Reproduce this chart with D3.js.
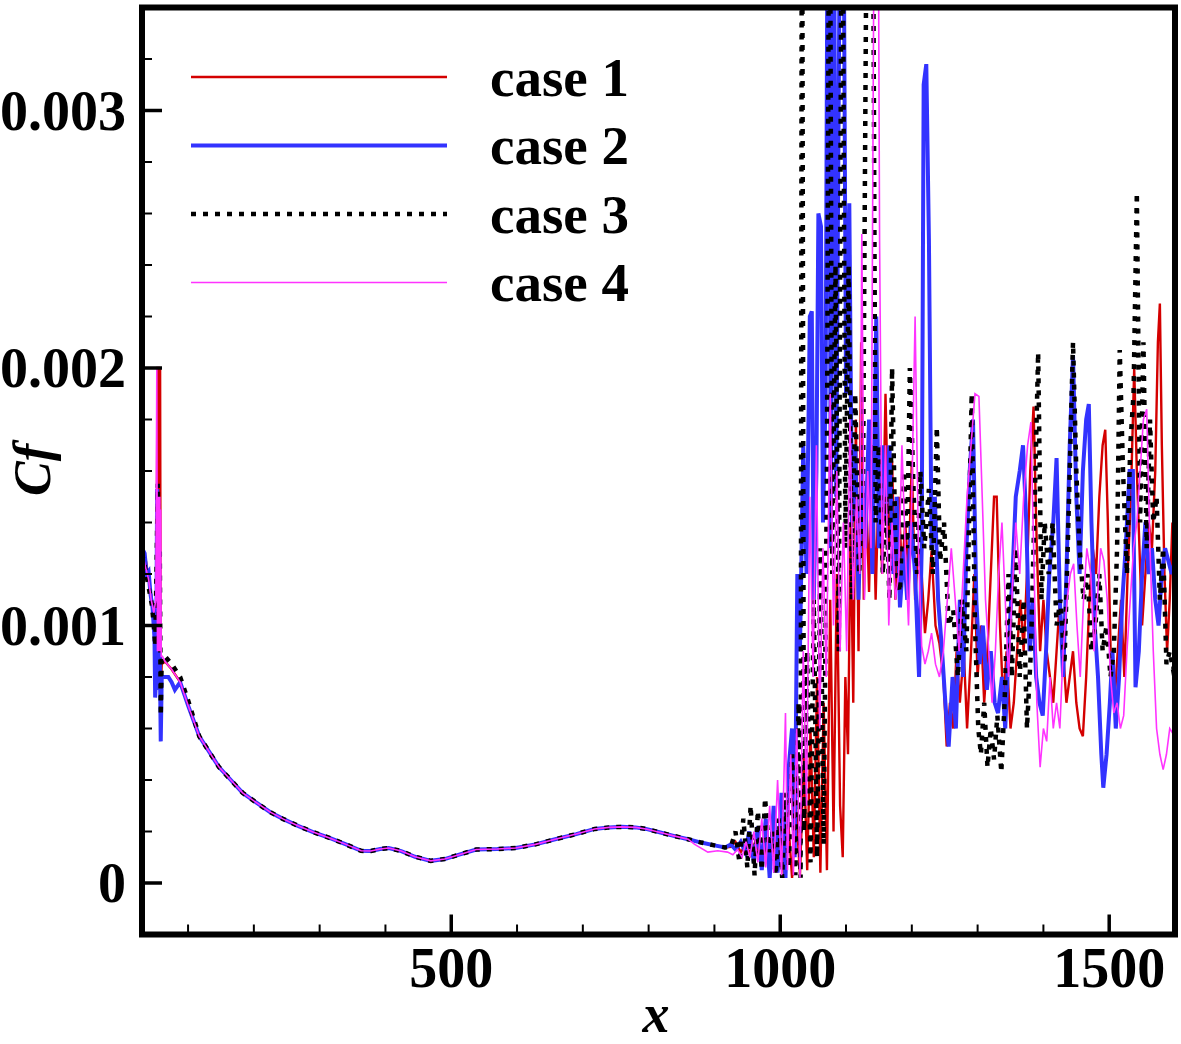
<!DOCTYPE html>
<html>
<head>
<meta charset="utf-8">
<script src="https://cdn.jsdelivr.net/npm/d3@7"></script>
<style>
body { margin:0; background:#fff; }
text { font-family: "Liberation Serif", "Times New Roman", serif; font-weight: bold; fill:#000; }
</style>
</head>
<body>
<svg id="chart" width="1181" height="1044"></svg>
<script>
var xTicksMajor = [500, 1000, 1500];
var yTicksMajor = [0, 0.001, 0.002, 0.003];
var yTickLabels = ["0", "0.001", "0.002", "0.003"];
var caseNames = ["case 1", "case 2", "case 3", "case 4"];

// smooth laminar part, shared by all cases
var lamX = [65, 75, 88, 100, 117, 132, 147, 165, 183, 205, 225, 245, 267, 290, 316, 340, 363, 378, 392, 405, 424, 445, 469, 490, 507, 538, 570, 598, 628, 658, 690, 718, 740, 759, 780, 796, 818, 838, 860, 880, 900, 916];
var lamCf = [0.00086, 0.00083, 0.00078, 0.00069, 0.00057, 0.00051, 0.00045, 0.00040, 0.00035, 0.00031, 0.000275, 0.000248, 0.000222, 0.000198, 0.000174, 0.00015, 0.000125, 0.000124, 0.000132, 0.000136, 0.000124, 0.000102, 0.000086, 0.000093, 0.000106, 0.00013, 0.000132, 0.000136, 0.00015, 0.00017, 0.00019, 0.00021, 0.000216, 0.000218, 0.000216, 0.00021, 0.000196, 0.000183, 0.00017, 0.000157, 0.000146, 0.000138];

// leading edge
var case1LeadX = [30, 36, 40, 44, 48, 52, 53.5, 55.5, 56.5, 57.5, 58.5, 60];
var case1LeadCf = [0.0013, 0.00125, 0.00118, 0.00112, 0.00105, 0.00098, 0.002, 0.002, 0.0009, 0.002, 0.00075, 0.00085];
var case2LeadX = [30, 34, 37, 40, 43, 46, 49, 50, 51.5, 53, 55, 57, 58.5, 60, 65, 70, 75, 80];
var case2LeadCf = [0.0013, 0.00128, 0.0012, 0.00121, 0.00112, 0.00107, 0.00095, 0.00072, 0.0008, 0.00153, 0.00075, 0.0009, 0.00055, 0.0008, 0.0008, 0.0008, 0.00078, 0.00075];
var case3LeadX = [30, 35, 40, 45, 48, 50, 52, 54, 55.5, 57, 58.5, 60, 65, 75, 88, 100];
var case3LeadCf = [0.00128, 0.00122, 0.00115, 0.00108, 0.001, 0.00092, 0.0012, 0.00155, 0.00095, 0.0013, 0.00065, 0.00088, 0.00088, 0.00085, 0.0008, 0.00071];
var case4LeadX = [30, 36, 40, 44, 48, 51, 52.5, 53.5, 54.2, 55, 55.7, 56.4, 57.1, 57.8, 58.5, 59.2, 61];
var case4LeadCf = [0.00129, 0.00122, 0.00118, 0.0011, 0.00105, 0.0011, 0.002, 0.0009, 0.0015, 0.0009, 0.0015, 0.0009, 0.0015, 0.0009, 0.00145, 0.00088, 0.00088];

// transition and turbulent part
var case1TailX = [925, 932, 940, 948, 955, 962, 969, 976, 982, 988, 994, 1000, 1006, 1012, 1018, 1024, 1030, 1036, 1041, 1046, 1051, 1056, 1061, 1066, 1071, 1076, 1081, 1086, 1091, 1095, 1099, 1103, 1107, 1111, 1115, 1119, 1123, 1127, 1131, 1135, 1140, 1145, 1150, 1155, 1160, 1165, 1170, 1175, 1180, 1185, 1190, 1195, 1200, 1205, 1210, 1215, 1220, 1225, 1230, 1236, 1242, 1248, 1253, 1258, 1263, 1268, 1273, 1279, 1284, 1290, 1295, 1300, 1305, 1310, 1315, 1320, 1325, 1329, 1334, 1339, 1344, 1350, 1355, 1360, 1365, 1370, 1375, 1380, 1385, 1390, 1395, 1400, 1405, 1410, 1415, 1420, 1425, 1430, 1435, 1440, 1445, 1450, 1455, 1460, 1465, 1470, 1475, 1480, 1485, 1490, 1494, 1498, 1503, 1508, 1513, 1518, 1523, 1528, 1533, 1538, 1542, 1546, 1550, 1555, 1560, 1565, 1570, 1574, 1577, 1580, 1584, 1588, 1592, 1596, 1600];
var case1TailCf = [0.00014, 0.00016, 0.00012, 0.00015, 0.00011, 0.00016, 0.00009, 0.00018, 0.00006, 0.0002, 0.00004, 0.00018, 0.00002, 0.00025, 0.00002, 0.0003, 0.00003, 0.0005, 0.00005, 0.0006, 0.0001, 0.0008, 0.00004, 0.0007, 0.00005, 0.0011, 0.0002, 0.0012, 0.0003, 0.0001, 0.0008, 0.0005, 0.0014, 0.0007, 0.0018, 0.0009, 0.0021, 0.0011, 0.0015, 0.00113, 0.0017, 0.0011, 0.0016, 0.0012, 0.0019, 0.0013, 0.00164, 0.0011, 0.0015, 0.0012, 0.0014, 0.0012, 0.00164, 0.0011, 0.0013, 0.0012, 0.00097, 0.0011, 0.00129, 0.001, 0.00093, 0.0008, 0.00053, 0.0007, 0.0006, 0.0009, 0.0007, 0.0009, 0.0006, 0.0009, 0.0012, 0.0008, 0.001, 0.0007, 0.0009, 0.0012, 0.0015, 0.0015, 0.001, 0.0007, 0.0009, 0.0006, 0.0007, 0.0009, 0.0011, 0.0009, 0.0012, 0.0016, 0.00185, 0.0013, 0.0009, 0.0011, 0.0009, 0.0008, 0.0007, 0.0009, 0.0011, 0.0009, 0.0007, 0.0008, 0.0009, 0.0007, 0.0006, 0.00057, 0.0008, 0.0011, 0.0013, 0.0012, 0.0015, 0.0017, 0.00176, 0.0014, 0.0008, 0.0007, 0.0009, 0.0011, 0.0008, 0.0012, 0.0015, 0.002, 0.0016, 0.0013, 0.001, 0.0012, 0.0014, 0.0013, 0.0016, 0.0021, 0.00225, 0.0017, 0.0012, 0.0009, 0.0011, 0.0014, 0.0013];

var case2TailX = [925, 932, 940, 947, 953, 960, 966, 972, 978, 984, 990, 996, 1002, 1008, 1013, 1018, 1022, 1026, 1030, 1035, 1040, 1045, 1048, 1051, 1055, 1058, 1062, 1065, 1069, 1073, 1077, 1081, 1085, 1090, 1095, 1100, 1105, 1109, 1114, 1119, 1124, 1129, 1135, 1140, 1146, 1150, 1155, 1160, 1166, 1172, 1177, 1182, 1188, 1193, 1199, 1205, 1211, 1215, 1218, 1222, 1226, 1230, 1235, 1240, 1246, 1251, 1256, 1262, 1267, 1273, 1278, 1283, 1288, 1293, 1298, 1303, 1308, 1314, 1320, 1326, 1331, 1337, 1342, 1347, 1353, 1358, 1364, 1369, 1374, 1379, 1384, 1389, 1394, 1399, 1404, 1409, 1415, 1420, 1425, 1430, 1435, 1440, 1445, 1450, 1455, 1460, 1465, 1469, 1473, 1478, 1483, 1488, 1491, 1496, 1501, 1505, 1510, 1515, 1520, 1525, 1531, 1536, 1540, 1545, 1550, 1555, 1560, 1565, 1570, 1575, 1580, 1585, 1590, 1595, 1600];
var case2TailCf = [0.00015, 0.00013, 0.00016, 0.00012, 0.0002, 0.00008, 0.00022, 0.00005, 0.00025, 0.00002, 0.0003, 0.00004, 0.00035, 0.00002, 0.00045, 0.0006, 0.0001, 0.0012, 0.0009, 0.0017, 0.0012, 0.0022, 0.00222, 0.0011, 0.0016, 0.0026, 0.00255, 0.0014, 0.0019, 0.0045, 0.0013, 0.0045, 0.0015, 0.0035, 0.0045, 0.0019, 0.00264, 0.0014, 0.0017, 0.0011, 0.0016, 0.0013, 0.0018, 0.0012, 0.0022, 0.0013, 0.0017, 0.0014, 0.0017, 0.0012, 0.0015, 0.00107, 0.0013, 0.0011, 0.0014, 0.0012, 0.0008, 0.0013, 0.0031, 0.00318, 0.0025, 0.0013, 0.0015, 0.0011, 0.0009, 0.0007, 0.00053, 0.0008, 0.0006, 0.0011, 0.0008, 0.0013, 0.0016, 0.0018, 0.0011, 0.00085, 0.001, 0.00075, 0.0009, 0.0007, 0.00066, 0.0008, 0.0006, 0.0009, 0.0012, 0.0015, 0.0016, 0.0017, 0.0014, 0.0009, 0.0011, 0.0008, 0.0007, 0.00065, 0.0009, 0.0012, 0.0014, 0.00165, 0.0011, 0.0008, 0.0012, 0.0017, 0.00205, 0.0015, 0.0012, 0.0016, 0.0018, 0.00186, 0.0014, 0.001, 0.0008, 0.0005, 0.00037, 0.0005, 0.0007, 0.0009, 0.0006, 0.0008, 0.0011, 0.0013, 0.0016, 0.0016, 0.00076, 0.0009, 0.0012, 0.0014, 0.0012, 0.0013, 0.0011, 0.001, 0.0012, 0.0013, 0.00125, 0.0012, 0.00125];

var case3TailX = [925, 932, 938, 944, 950, 955, 961, 966, 972, 977, 983, 988, 993, 998, 1003, 1008, 1013, 1018, 1023, 1028, 1031, 1033, 1036, 1041, 1046, 1051, 1056, 1061, 1066, 1071, 1075, 1079, 1084, 1089, 1094, 1099, 1104, 1109, 1114, 1120, 1126, 1133, 1140, 1145, 1150, 1156, 1161, 1166, 1170, 1176, 1182, 1188, 1193, 1197, 1203, 1208, 1213, 1219, 1226, 1232, 1238, 1243, 1249, 1256, 1263, 1270, 1276, 1283, 1291, 1296, 1301, 1305, 1310, 1315, 1320, 1325, 1330, 1336, 1341, 1347, 1352, 1358, 1364, 1370, 1375, 1381, 1387, 1392, 1397, 1402, 1408, 1414, 1420, 1426, 1432, 1438, 1445, 1450, 1455, 1461, 1467, 1473, 1479, 1485, 1490, 1496, 1502, 1507, 1512, 1516, 1521, 1527, 1532, 1537, 1542, 1547, 1552, 1557, 1562, 1567, 1572, 1577, 1582, 1587, 1592, 1597, 1600];
var case3TailCf = [0.00014, 0.0002, 0.00008, 0.00025, 0.00006, 0.0003, 0.00003, 0.00028, 0.00005, 0.00033, 0.00012, 0.0002, 0.00003, 0.00025, 0.00002, 0.00035, 0.00006, 0.0005, 0.00003, 0.0007, 0.00002, 0.0045, 0.0002, 0.0009, 0.00008, 0.0011, 0.0001, 0.0013, 0.00015, 0.0016, 0.0045, 0.0012, 0.0024, 0.0009, 0.0045, 0.0013, 0.0024, 0.0011, 0.0019, 0.0012, 0.0016, 0.0045, 0.0045, 0.0014, 0.0017, 0.0012, 0.0015, 0.0011, 0.002, 0.0012, 0.00113, 0.0016, 0.0013, 0.002, 0.0015, 0.0012, 0.0016, 0.0013, 0.00153, 0.0012, 0.00177, 0.00125, 0.0014, 0.001, 0.00106, 0.0008, 0.0011, 0.0009, 0.0019, 0.001, 0.0006, 0.0005, 0.0007, 0.00045, 0.0006, 0.00048, 0.00065, 0.00043, 0.0007, 0.0012, 0.0008, 0.0013, 0.0008, 0.0011, 0.0006, 0.0009, 0.0015, 0.00206, 0.0011, 0.0014, 0.0012, 0.0014, 0.001, 0.0011, 0.00085, 0.0014, 0.0021, 0.0016, 0.0013, 0.0011, 0.0012, 0.0009, 0.001, 0.0012, 0.0009, 0.001, 0.0008, 0.0009, 0.0013, 0.00207, 0.0016, 0.0012, 0.0017, 0.0019, 0.00268, 0.0014, 0.0021, 0.0013, 0.0018, 0.0014, 0.0015, 0.0011, 0.0013, 0.00085, 0.0009, 0.00083, 0.00085];

var case4TailX = [870, 890, 905, 920, 928, 935, 942, 948, 954, 960, 966, 972, 978, 984, 990, 996, 1002, 1008, 1011, 1016, 1020, 1025, 1030, 1035, 1040, 1045, 1050, 1055, 1060, 1065, 1070, 1076, 1081, 1086, 1091, 1096, 1101, 1106, 1111, 1116, 1121, 1124, 1128, 1133, 1138, 1144, 1148, 1151, 1155, 1160, 1165, 1170, 1175, 1180, 1185, 1190, 1195, 1200, 1205, 1210, 1215, 1220, 1225, 1230, 1236, 1242, 1248, 1254, 1260, 1266, 1272, 1278, 1284, 1290, 1296, 1302, 1307, 1312, 1317, 1322, 1327, 1332, 1337, 1342, 1347, 1352, 1358, 1364, 1370, 1376, 1381, 1386, 1390, 1395, 1400, 1405, 1410, 1415, 1420, 1425, 1430, 1436, 1441, 1446, 1451, 1456, 1461, 1466, 1472, 1477, 1482, 1487, 1492, 1497, 1502, 1507, 1512, 1517, 1522, 1527, 1532, 1537, 1542, 1547, 1552, 1557, 1562, 1567, 1572, 1577, 1582, 1587, 1592, 1597, 1600];
var case4TailCf = [0.00015, 0.00012, 0.000125, 0.00012, 0.00011, 0.00013, 0.0001, 0.00016, 0.0001, 0.0002, 0.00008, 0.00025, 0.00006, 0.0003, 0.00004, 0.0004, 0.00003, 0.00066, 0.00005, 0.0005, 0.00003, 0.0006, 0.00002, 0.0009, 0.0003, 0.0015, 0.0008, 0.0017, 0.0006, 0.0013, 0.0008, 0.0019, 0.001, 0.0016, 0.0009, 0.0014, 0.0009, 0.0018, 0.0011, 0.0015, 0.0012, 0.00252, 0.0011, 0.0016, 0.0013, 0.0045, 0.0045, 0.0025, 0.0012, 0.0017, 0.001, 0.0014, 0.0011, 0.0012, 0.0017, 0.0013, 0.001, 0.0015, 0.0022, 0.0013, 0.00092, 0.00085, 0.0009, 0.00097, 0.00085, 0.0008, 0.0009, 0.0011, 0.0013, 0.0011, 0.0009, 0.0012, 0.0015, 0.0017, 0.0019, 0.00189, 0.0015, 0.0011, 0.0009, 0.0007, 0.0009, 0.0012, 0.0014, 0.0011, 0.0008, 0.0011, 0.0014, 0.0012, 0.0015, 0.0017, 0.00179, 0.0012, 0.0007, 0.00045, 0.0006, 0.00055, 0.0008, 0.0006, 0.0007, 0.0006, 0.0009, 0.0011, 0.0012, 0.00124, 0.001, 0.0008, 0.0011, 0.0013, 0.0012, 0.0009, 0.0011, 0.0013, 0.00125, 0.0011, 0.0008, 0.00066, 0.0007, 0.0006, 0.00065, 0.0009, 0.0011, 0.0013, 0.0014, 0.0016, 0.0018, 0.00184, 0.0013, 0.0009, 0.0006, 0.0005, 0.00044, 0.0005, 0.0006, 0.00058, 0.0006];

var width = 1181, height = 1044;
var margin = {left: 142, right: 6, top: 7.5, bottom: 109.5};
var plotW = width - margin.left - margin.right;
var plotH = height - margin.top - margin.bottom;

var x = d3.scaleLinear().domain([30, 1600]).range([0, plotW]);
var y = d3.scaleLinear().domain([-0.0002, 0.0034]).range([plotH, 0]);

function build(leadX, leadCf, tailX, tailCf) {
   var pts = [];
   leadX.forEach(function (v, i) { pts.push([v, leadCf[i]]); });
   var lastLead = leadX[leadX.length - 1], firstTail = tailX[0];
   lamX.forEach(function (v, i) {
      if (v > lastLead && v < firstTail) pts.push([v, lamCf[i]]);
   });
   tailX.forEach(function (v, i) { pts.push([v, tailCf[i]]); });
   return pts;
}

var series = [
   {name: caseNames[0], color: "#d40000", w: 2.4, dash: null, pts: build(case1LeadX, case1LeadCf, case1TailX, case1TailCf)},
   {name: caseNames[1], color: "#3333ff", w: 4, dash: null, pts: build(case2LeadX, case2LeadCf, case2TailX, case2TailCf)},
   {name: caseNames[2], color: "#000000", w: 4.5, dash: "5,7", pts: build(case3LeadX, case3LeadCf, case3TailX, case3TailCf)},
   {name: caseNames[3], color: "#ff33ff", w: 1.6, dash: null, pts: build(case4LeadX, case4LeadCf, case4TailX, case4TailCf)}
];

var svg = d3.select("#chart");
var g = svg.append("g").attr("transform", "translate(" + margin.left + "," + margin.top + ")");

g.append("clipPath").attr("id", "clip")
 .append("rect").attr("width", plotW).attr("height", plotH);

var line = d3.line()
   .x(function (d) { return x(d[0]); })
   .y(function (d) { return y(d[1]); });

g.append("g").attr("clip-path", "url(#clip)")
 .selectAll("path")
 .data(series)
 .enter()
 .append("path")
 .attr("d", function (d) { return line(d.pts); })
 .attr("fill", "none")
 .attr("stroke", function (d) { return d.color; })
 .attr("stroke-width", function (d) { return d.w; })
 .attr("stroke-dasharray", function (d) { return d.dash; })
 .attr("stroke-linejoin", "miter");

// ticks, drawn inward
var yMinor = d3.range(0, 0.00341, 0.0002).filter(function (v) {
   return yTicksMajor.every(function (m) { return Math.abs(m - v) > 1e-9; });
});
var xMinor = d3.range(100, 1601, 100).filter(function (v) { return xTicksMajor.indexOf(v) < 0; });

g.selectAll(".ymaj").data(yTicksMajor).enter().append("line")
 .attr("x1", 0).attr("x2", 20)
 .attr("y1", function (d) { return y(d); }).attr("y2", function (d) { return y(d); })
 .attr("stroke", "#000").attr("stroke-width", 3.5);
g.selectAll(".ymin").data(yMinor).enter().append("line")
 .attr("x1", 0).attr("x2", 10)
 .attr("y1", function (d) { return y(d); }).attr("y2", function (d) { return y(d); })
 .attr("stroke", "#000").attr("stroke-width", 2);
g.selectAll(".xmaj").data(xTicksMajor).enter().append("line")
 .attr("y1", plotH).attr("y2", plotH - 20)
 .attr("x1", function (d) { return x(d); }).attr("x2", function (d) { return x(d); })
 .attr("stroke", "#000").attr("stroke-width", 3.5);
g.selectAll(".xmin").data(xMinor).enter().append("line")
 .attr("y1", plotH).attr("y2", plotH - 10)
 .attr("x1", function (d) { return x(d); }).attr("x2", function (d) { return x(d); })
 .attr("stroke", "#000").attr("stroke-width", 2);

g.append("rect")
 .attr("width", plotW).attr("height", plotH)
 .attr("fill", "none").attr("stroke", "#000").attr("stroke-width", 6);

g.selectAll(".ylab").data(yTicksMajor).enter().append("text")
 .attr("x", -16).attr("y", function (d) { return y(d); })
 .attr("dy", "0.34em")
 .attr("text-anchor", "end")
 .style("font-size", "56px")
 .text(function (d, i) { return yTickLabels[i]; });

g.selectAll(".xlab").data(xTicksMajor).enter().append("text")
 .attr("x", function (d) { return x(d); }).attr("y", plotH + 52)
 .attr("text-anchor", "middle")
 .style("font-size", "56px")
 .text(function (d) { return d; });

svg.append("text")
 .attr("transform", "translate(50,470) rotate(-90)")
 .attr("text-anchor", "middle")
 .style("font-size", "52px").style("font-style", "italic")
 .text("Cf");
svg.append("text")
 .attr("x", 656).attr("y", 1032)
 .attr("text-anchor", "middle")
 .style("font-size", "54px").style("font-style", "italic")
 .text("x");

// legend
var leg = svg.append("g").selectAll("g")
   .data(series)
   .enter()
   .append("g")
   .attr("transform", function (d, i) { return "translate(191," + (77 + i * 68.5) + ")"; });
leg.append("line")
   .attr("x1", 0).attr("x2", 256)
   .attr("stroke", function (d) { return d.color; })
   .attr("stroke-width", function (d) { return d.w; })
   .attr("stroke-dasharray", function (d) { return d.dash; });
leg.append("text")
   .attr("x", 299).attr("dy", "0.34em")
   .style("font-size", "55px")
   .text(function (d) { return d.name; });
</script>
</body>
</html>
